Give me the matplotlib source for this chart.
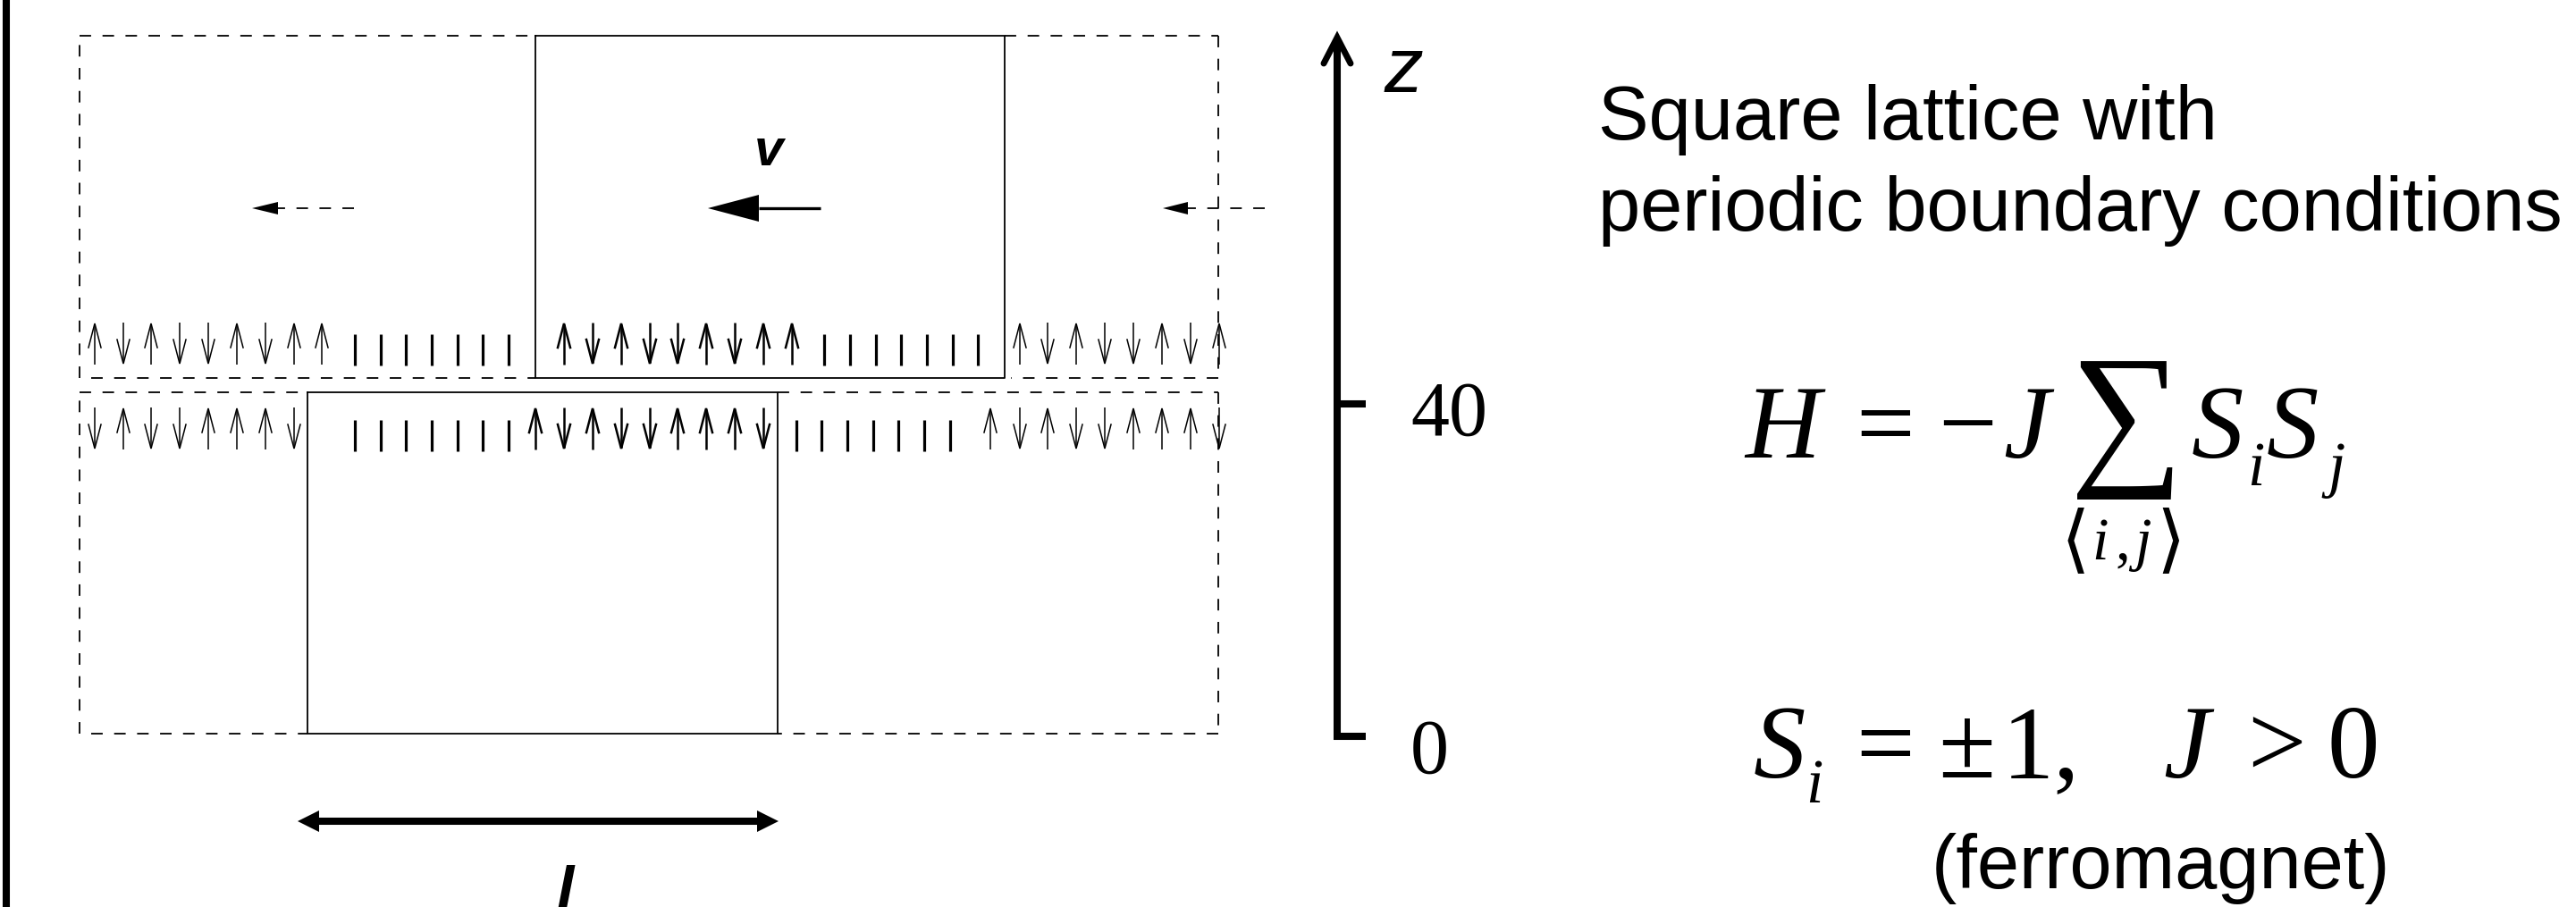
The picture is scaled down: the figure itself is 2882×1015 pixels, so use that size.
import matplotlib
matplotlib.use("Agg")
import matplotlib.pyplot as plt

plt.rcParams["lines.scale_dashes"] = False

W, H = 2882, 1015
SANS = "Liberation Sans"
SERIF = "Liberation Serif"

# spin states (+1 up, -1 down)
upper_pattern = [1, -1, 1, -1, -1, 1, -1, 1, 1]
lower_pattern = [1, -1, 1, -1, -1, 1, 1, 1, -1]
upper_left_x = [106, 138, 169, 201, 233, 265, 297, 329, 360]
upper_mid_x = [631, 663, 695, 727, 758, 790, 822, 854, 886]
upper_right_x = [1141, 1172, 1204, 1236, 1268, 1300, 1332, 1364]
lower_left_x = [106, 138, 169, 201, 233, 265, 297, 329]
lower_mid_x = [599, 631, 663, 695, 727, 758, 790, 822, 854]
lower_right_x = [1108, 1141, 1172, 1204, 1236, 1268, 1300, 1332, 1364]
ticks_a = [397, 426, 454, 483, 512, 540, 569]
ticks_b = [922, 951, 980, 1008, 1037, 1066, 1094]
ticks_c = [891, 919, 948, 977, 1005, 1034, 1063]
z_ticks = {"40": 452, "0": 824}

fig = plt.figure(figsize=(W / 100, H / 100), dpi=100)
ax = fig.add_axes([0, 0, 1, 1])
ax.set_xlim(0, W)
ax.set_ylim(H, 0)
ax.axis("off")


def spin(x, s, top, bot, lw):
    if s > 0:
        ax.plot([x, x], [bot, top + 2], color="k", lw=lw, solid_capstyle="butt")
        ax.plot([x - 7, x, x + 7], [top + 28, top + 1, top + 28], color="k", lw=lw, solid_joinstyle="miter")
    else:
        ax.plot([x, x], [top, bot - 2], color="k", lw=lw, solid_capstyle="butt")
        ax.plot([x - 7, x, x + 7], [bot - 28, bot - 1, bot - 28], color="k", lw=lw, solid_joinstyle="miter")


def row(xs, pattern, top, bot, lw, start=0):
    for x, s in zip(xs, pattern[start:]):
        spin(x, s, top, bot, lw)


DASH = (0, (9.3, 9.2))


def dashed(xs, ys, lw=1.3):
    ax.plot(xs, ys, color="k", lw=lw, ls=DASH, dash_capstyle="butt")


# thick left border
ax.plot([7, 7], [0, H], color="k", lw=5.8, solid_capstyle="butt")

# dashed periodic images
dashed([89, 89], [423, 40])
dashed([89, 599], [40, 40])
dashed([102, 599], [423, 423])
dashed([1124, 1363], [40, 40])
dashed([1363, 1363], [40, 423])
dashed([1363, 1131], [423, 423])
dashed([89, 344], [439, 439])
dashed([89, 89], [821, 439])
dashed([102, 344], [821, 821])
dashed([870, 1363], [439, 439])
dashed([1363, 1363], [439, 821])
dashed([1363, 870], [821, 821])

# solid boxes
ax.plot([599, 1124, 1124, 599, 599], [40, 40, 423, 423, 40], color="k", lw=1.3)
ax.plot([344, 870, 870, 344, 344], [439, 439, 821, 821, 439], color="k", lw=1.3)

# spins
row(upper_left_x, upper_pattern, 361, 408, 1.1)
row(upper_mid_x, upper_pattern, 361, 408, 1.8)
row(upper_right_x, upper_pattern, 361, 408, 1.1)
row(lower_left_x, lower_pattern, 456, 503, 1.1, start=1)
row(lower_mid_x, lower_pattern, 456, 503, 1.8)
row(lower_right_x, lower_pattern, 456, 503, 1.1)

for x in ticks_a + ticks_b:
    ax.plot([x, x], [374, 409], color="k", lw=2.3, solid_capstyle="butt")
for x in ticks_a + ticks_c:
    ax.plot([x, x], [470, 505], color="k", lw=2.3, solid_capstyle="butt")

# velocity arrows
ax.plot([918, 849], [233, 233], color="k", lw=2.4, solid_capstyle="butt")
ax.fill([792, 849, 849], [233, 218, 248], color="k", lw=0)
ax.plot([396, 311], [233, 233], color="k", lw=1.3, ls=DASH)
ax.fill([282, 311, 311], [233, 226, 240], color="k", lw=0)
ax.plot([1415, 1329], [233, 233], color="k", lw=1.3, ls=DASH)
ax.fill([1301, 1329, 1329], [233, 226, 240], color="k", lw=0)
ax.text(860, 185, "v", family=SANS, weight="bold", style="italic", fontsize=42, ha="center", va="baseline")

# z axis
ax.plot([1496, 1496], [828, 44], color="k", lw=5.8, solid_capstyle="butt")
ax.plot([1481, 1496, 1511], [71, 42, 71], color="k", lw=5, solid_capstyle="round", solid_joinstyle="miter")
for lab, y in z_ticks.items():
    ax.plot([1492, 1528], [y, y], color="k", lw=5.8, solid_capstyle="butt")
ax.text(1578, 487, "40", family=SERIF, fontsize=62, ha="left", va="baseline")
ax.text(1578, 865, "0", family=SERIF, fontsize=62, ha="left", va="baseline")
ax.text(1549, 103, "z", family=SANS, style="italic", fontsize=63, ha="left", va="baseline")

# l arrow
ax.plot([350, 855], [919, 919], color="k", lw=5.8, solid_capstyle="butt")
ax.fill([333, 357, 357], [919, 907, 931], color="k", lw=0)
ax.fill([871, 847, 847], [919, 907, 931], color="k", lw=0)
ax.text(632, 1018, "l", family=SANS, weight="bold", style="italic", fontsize=50, ha="center", va="baseline")

# caption
ax.text(1788, 156, "Square lattice with", family=SANS, fontsize=61, va="baseline")
ax.text(1788, 258, "periodic boundary conditions", family=SANS, fontsize=61, va="baseline")
ax.text(2418, 994, "(ferromagnet)", family=SANS, fontsize=61, ha="center", va="baseline")


def mt(x, y, s, size=84, style="italic", **kw):
    ax.text(x, y, s, family=[SERIF, "DejaVu Sans"], style=style, fontsize=size, va="baseline", ha="left", **kw)


# Hamiltonian
mt(1952, 512, "H")
mt(2076, 512, "=", style="normal")
mt(2168, 512, "\u2212", style="normal")
mt(2241, 512, "J")
mt(2316, 521, "\u2211", size=128, style="normal")
mt(2452, 512, "S")
mt(2514, 543, "i", size=50)
mt(2536, 512, "S")
mt(2604, 543, "j", size=50)
mt(2306, 630, "\u27e8", size=60, style="normal")
mt(2340, 626, "i", size=48)
mt(2366, 626, ",", size=48, style="normal")
mt(2388, 626, "j", size=48)
mt(2412, 630, "\u27e9", size=60, style="normal")

# spin constraint
mt(1962, 870, "S")
mt(2020, 898, "i", size=50)
mt(2076, 870, "=", style="normal")
mt(2168, 870, "\u00b1", style="normal")
mt(2240, 870, "1,", style="normal")
mt(2420, 870, "J")
mt(2514, 870, ">", style="normal")
mt(2604, 870, "0", style="normal")

fig.savefig("out.png", dpi=100, facecolor="white")
